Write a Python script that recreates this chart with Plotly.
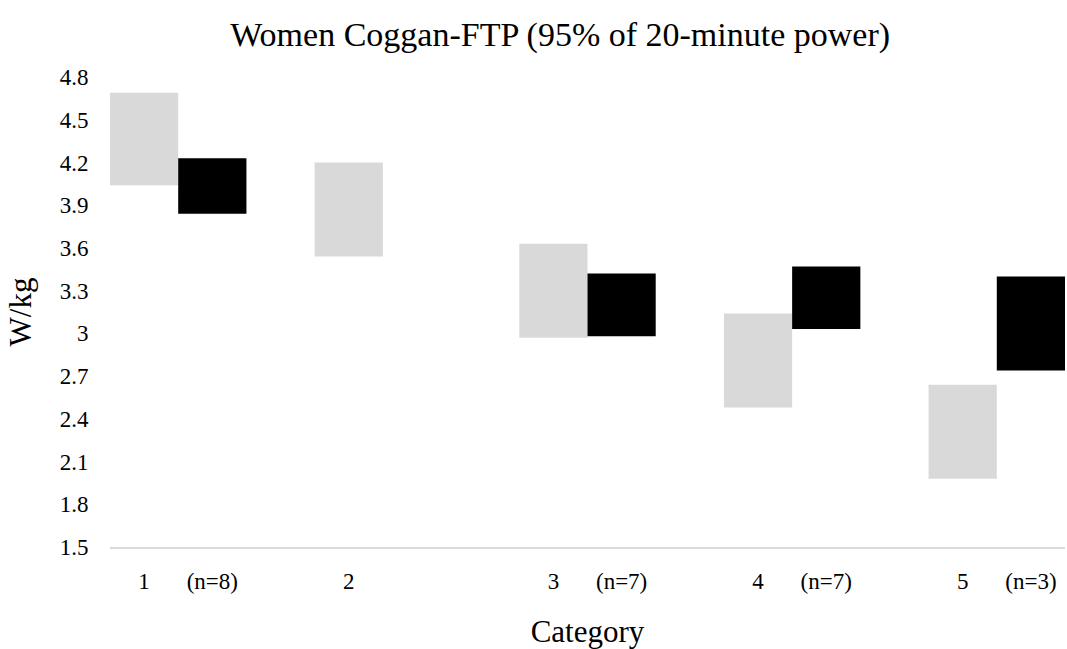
import plotly.graph_objects as go

# Category labels and sample sizes for the measured group
categories = ["1", "2", "3", "4", "5"]
sample_sizes = ["(n=8)", "", "(n=7)", "(n=7)", "(n=3)"]

# Coggan FTP reference ranges (W/kg)
coggan_low = [4.04, 3.54, 2.97, 2.48, 1.98]
coggan_high = [4.69, 4.20, 3.63, 3.14, 2.64]

# Measured FTP ranges (W/kg); category 2 has no measurements
measured_low = [3.84, None, 2.98, 3.03, 2.74]
measured_high = [4.23, None, 3.42, 3.47, 3.40]

y_ticks = [1.5, 1.8, 2.1, 2.4, 2.7, 3.0, 3.3, 3.6, 3.9, 4.2, 4.5, 4.8]
y_tick_text = ["1.5", "1.8", "2.1", "2.4", "2.7", "3", "3.3", "3.6", "3.9", "4.2", "4.5", "4.8"]

FONT = "Liberation Serif, Times New Roman, serif"

# Each category occupies three slots: reference bar, measured bar, gap
ref_x = [3 * i for i in range(len(categories))]
meas_x = [3 * i + 1 for i in range(len(categories))]

meas_pts = [(x, lo, hi) for x, lo, hi in zip(meas_x, measured_low, measured_high) if lo is not None]

fig = go.Figure()
fig.add_trace(go.Bar(
    x=ref_x,
    y=[h - l for l, h in zip(coggan_low, coggan_high)],
    base=coggan_low,
    width=1,
    marker=dict(color="#d9d9d9", line=dict(width=0)),
    name="Coggan",
    showlegend=False,
))
fig.add_trace(go.Bar(
    x=[p[0] for p in meas_pts],
    y=[p[2] - p[1] for p in meas_pts],
    base=[p[1] for p in meas_pts],
    width=1,
    marker=dict(color="#000000", line=dict(width=0)),
    name="Measured",
    showlegend=False,
))

tick_vals = []
tick_text = []
for rx, mx, c, n in zip(ref_x, meas_x, categories, sample_sizes):
    tick_vals.append(rx)
    tick_text.append(c)
    if n:
        tick_vals.append(mx)
        tick_text.append(n)

fig.update_layout(
    width=1067,
    height=649,
    margin=dict(l=110, r=2, t=77, b=102),
    paper_bgcolor="white",
    plot_bgcolor="white",
    barmode="overlay",
    font=dict(family=FONT, color="#000000", size=23),
    title=dict(
        text="Women Coggan-FTP (95% of 20-minute power)",
        x=0.525, xanchor="center", y=0.948, yanchor="middle",
        font=dict(family=FONT, size=34, color="#000000"),
    ),
    xaxis=dict(
        range=[-0.5, 13.5],
        tickvals=tick_vals,
        ticktext=tick_text,
        ticks="outside", ticklen=12, tickcolor="rgba(0,0,0,0)",
        showgrid=False, zeroline=False,
        showline=True, linecolor="#d9d9d9", linewidth=2,
        tickfont=dict(family=FONT, size=23),
        title=dict(text="Category", font=dict(family=FONT, size=31), standoff=28),
    ),
    yaxis=dict(
        range=[1.5, 4.8],
        tickvals=y_ticks,
        ticktext=y_tick_text,
        ticks="outside", ticklen=16, tickcolor="rgba(0,0,0,0)",
        showgrid=False, zeroline=False, showline=False,
        tickfont=dict(family=FONT, size=23),
        title=dict(text="W/kg", font=dict(family=FONT, size=31), standoff=18),
    ),
)

fig.write_html("out.html")
